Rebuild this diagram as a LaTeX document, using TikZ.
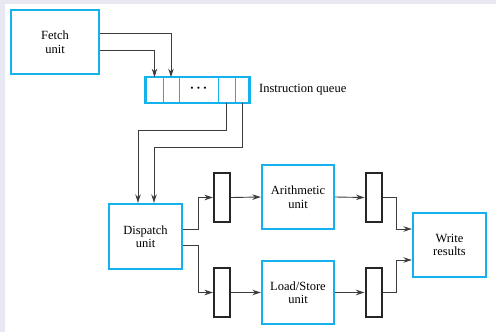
\documentclass[tikz,border=0pt]{standalone}
\usepackage{fontspec}
\setmainfont{Liberation Serif}
\usetikzlibrary{arrows.meta,calc}
\definecolor{bgcol}{RGB}{232,232,242}
\definecolor{boxblue}{RGB}{20,178,236}
\definecolor{linegray}{RGB}{60,60,60}
\tikzset{
  unitbox/.style={draw=boxblue,line width=2.4pt,fill=white,align=center,inner sep=0pt,
    font=\fontsize{12.5}{13.5}\selectfont},
  cellbox/.style={draw=boxblue,line width=0.8pt,inner sep=0pt,minimum height=25,fill=white},
  regbox/.style={draw=black!85,line width=2pt,inner sep=0pt,minimum width=16,minimum height=49,fill=white},
  conn/.style={draw=linegray,line width=0.9pt},
  arr/.style={conn,-{Stealth[length=8.5pt,width=5.5pt]}},
}
\begin{document}
\begin{tikzpicture}[x=1pt,y=-1pt]
\useasboundingbox (0,0) rectangle (496,332);
\fill[white] (0,0) rectangle (496,332);
\fill[bgcol] (0,0) rectangle (496,4);
\fill[bgcol] (0,0) rectangle (5,332);

% units
\node[unitbox,minimum width=88,minimum height=64] (fetch) at (55,42) {Fetch\\unit};
\node[unitbox,minimum width=73,minimum height=65] (disp) at (145.5,236.5) {Dispatch\\unit};
\node[unitbox,minimum width=72,minimum height=64] (arith) at (298,197) {Arithmetic\\unit};
\node[unitbox,minimum width=72,minimum height=63] (ls) at (298,292.5) {Load/Store\\unit};
\node[unitbox,minimum width=73,minimum height=64] (write) at (449.5,245) {Write\\results};

% instruction queue
\node[cellbox,minimum width=17] (q1) at (154.5,90) {};
\node[cellbox,minimum width=16] (q2) at (171,90) {};
\node[cellbox,minimum width=39,font=\fontsize{13}{14}\selectfont\bfseries] (q3) at (198.5,90) {·\,·\,·};
\node[cellbox,minimum width=17] (q4) at (226.5,90) {};
\node[cellbox,minimum width=14] (q5) at (242,90) {};
\draw[boxblue,line width=2.4pt] (q1.north west) rectangle (q5.south east);
\node[anchor=west,inner sep=0pt,font=\fontsize{12.5}{13.5}\selectfont] (qlabel) at (259,90) {Instruction queue};

% registers
\node[regbox] (r1) at (222,197.5) {};
\node[regbox] (r2) at (222,292.5) {};
\node[regbox] (r3) at (373.5,197.5) {};
\node[regbox] (r4) at (373.5,292.5) {};

% fetch -> queue
\draw[arr] ([yshift=9]fetch.east) -| (q2.north);
\draw[arr] ([yshift=-8]fetch.east) -| (q1.north);

% queue -> dispatch
\coordinate (k1) at (138,130);
\coordinate (k2) at (154,147);
\draw[arr] (q4.south) |- (k1) -- (k1 |- disp.north);
\draw[arr] (q5.south) |- (k2) -- (k2 |- disp.north);

% dispatch -> registers
\draw[arr] ([yshift=7.5]disp.east) -| ($(r1.west)+(-15,0)$) -- (r1.west);
\draw[arr] ([yshift=-8.5]disp.east) -| ($(r2.west)+(-15,0)$) -- (r2.west);

% registers -> units
\draw[arr] (r1.east) -- (arith.west);
\draw[arr] (r2.east) -- (ls.west);
\draw[arr] (arith.east) -- (r3.west);
\draw[arr] (ls.east) -- (r4.west);

% registers -> write results
\coordinate (w1) at ([yshift=16]write.west);
\coordinate (w2) at ([yshift=-15]write.west);
\draw[arr] (r3.east) -| ($(w1)+(-15,0)$) -- (w1);
\draw[arr] (r4.east) -| ($(w2)+(-15,0)$) -- (w2);
\end{tikzpicture}
\end{document}
